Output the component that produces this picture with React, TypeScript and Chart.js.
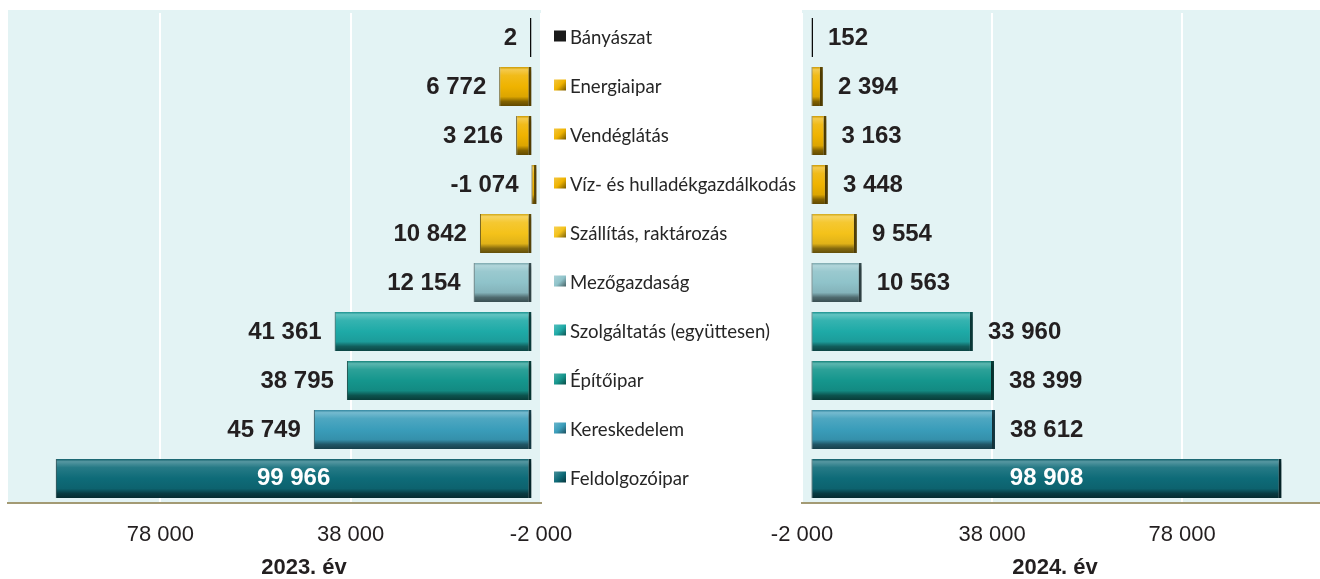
import React, { useEffect, useRef } from "react";
import { Chart, registerables } from "chart.js";

Chart.register(...registerables);

const CATEGORIES = [
  "Bányászat",
  "Energiaipar",
  "Vendéglátás",
  "Víz- és hulladékgazdálkodás",
  "Szállítás, raktározás",
  "Mezőgazdaság",
  "Szolgáltatás (együttesen)",
  "Építőipar",
  "Kereskedelem",
  "Feldolgozóipar",
];
const VALUES_2023 = [2, 6772, 3216, -1074, 10842, 12154, 41361, 38795, 45749, 99966];
const VALUES_2024 = [152, 2394, 3163, 3448, 9554, 10563, 33960, 38399, 38612, 98908];
const COLORS = [
  "#1a1a1a",
  "#efb300",
  "#efb300",
  "#efb300",
  "#f4c21a",
  "#8fc3ca",
  "#1eaaa7",
  "#15968d",
  "#3a9dba",
  "#0e6b78",
];
const X_TICKS = [-2000, 38000, 78000];
const YEAR_LEFT = "2023. év";
const YEAR_RIGHT = "2024. év";

const TEXT = "#231f20";
const PLOT_BG = "#e3f3f4";
const BASELINE = "#a39a74";

function mix(hex: string, amt: number): string {
  const n = parseInt(hex.slice(1), 16);
  let r = n >> 16, g = (n >> 8) & 255, b = n & 255;
  const t = amt < 0 ? 0 : 255;
  const p = Math.abs(amt);
  r = Math.round(r + (t - r) * p);
  g = Math.round(g + (t - g) * p);
  b = Math.round(b + (t - b) * p);
  return `rgb(${r},${g},${b})`;
}

function fmt(v: number): string {
  const s = Math.abs(Math.round(v)).toString().replace(/\B(?=(\d{3})+(?!\d))/g, " ");
  return (v < 0 ? "-" : "") + s;
}

function barGradient(ctx: CanvasRenderingContext2D, c: string, y0: number, y1: number) {
  const g = ctx.createLinearGradient(0, y0, 0, y1);
  g.addColorStop(0, mix(c, -0.15));
  g.addColorStop(0.07, mix(c, 0.3));
  g.addColorStop(0.22, mix(c, 0.1));
  g.addColorStop(0.5, c);
  g.addColorStop(0.76, mix(c, -0.08));
  g.addColorStop(0.88, mix(c, -0.45));
  g.addColorStop(1, mix(c, -0.6));
  return g;
}

const bgPlugin = {
  id: "plotBg",
  beforeDraw(chart: any) {
    const { ctx, chartArea } = chart;
    if (!chartArea) return;
    ctx.save();
    ctx.fillStyle = PLOT_BG;
    ctx.fillRect(chartArea.left, chartArea.top - 3, chartArea.right - chartArea.left, chartArea.bottom - chartArea.top + 3);
    ctx.restore();
  },
};

const shadowPlugin = {
  id: "barShadow",
  beforeDatasetDraw(chart: any) {
    const ctx = chart.ctx;
    ctx.save();
    ctx.shadowColor = "rgba(0,0,0,0.3)";
    ctx.shadowBlur = 4;
    ctx.shadowOffsetX = 2;
    ctx.shadowOffsetY = 3;
  },
  afterDatasetDraw(chart: any) {
    chart.ctx.restore();
  },
};

const labelPlugin = {
  id: "valueLabels",
  afterDatasetsDraw(chart: any, _args: any, opts: any) {
    const ctx = chart.ctx;
    const meta = chart.getDatasetMeta(0);
    const data = chart.data.datasets[0].data as number[];
    ctx.save();
    ctx.font = 'bold 24px "Liberation Sans", Arial, sans-serif';
    ctx.textBaseline = "middle";
    meta.data.forEach((el: any, i: number) => {
      const { x, y, base } = el.getProps(["x", "y", "base"], true);
      const txt = fmt(data[i]);
      if (Math.abs(x - base) > 300) {
        ctx.fillStyle = "#ffffff";
        ctx.textAlign = "center";
        ctx.fillText(txt, (x + base) / 2, y);
      } else if (opts.side === "left") {
        ctx.fillStyle = TEXT;
        ctx.textAlign = "right";
        ctx.fillText(txt, Math.min(x, base) - 13, y + 1);
      } else {
        ctx.fillStyle = TEXT;
        ctx.textAlign = "left";
        ctx.fillText(txt, Math.max(x, base) + 15, y + 1);
      }
    });
    ctx.restore();
  },
};

const markerPlugin = {
  id: "catMarkers",
  afterDraw(chart: any, _args: any, opts: any) {
    if (!opts.show) return;
    const { ctx, chartArea } = chart;
    const yScale = chart.scales.y;
    ctx.save();
    CATEGORIES.forEach((_c, i) => {
      const y = yScale.getPixelForValue(i) - 1;
      const x = chartArea.right + 13;
      const c = COLORS[i];
      if (i === 0) {
        ctx.fillStyle = c;
      } else {
        const g = ctx.createLinearGradient(x, y - 6, x + 12, y + 6);
        g.addColorStop(0, mix(c, 0.25));
        g.addColorStop(0.5, c);
        g.addColorStop(1, mix(c, -0.55));
        ctx.fillStyle = g;
      }
      ctx.fillRect(x, y - 6, 12, 11);
    });
    ctx.restore();
  },
};

const titlePlugin = {
  id: "yearTitle",
  afterDraw(chart: any, _args: any, opts: any) {
    const ctx = chart.ctx;
    ctx.save();
    ctx.font = 'bold 22px "Liberation Sans", Arial, sans-serif';
    ctx.fillStyle = TEXT;
    ctx.textAlign = "center";
    ctx.textBaseline = "alphabetic";
    ctx.fillText(opts.text, opts.x, 574);
    ctx.restore();
  },
};

function makeConfig(values: number[], side: "left" | "right"): any {
  const isLeft = side === "left";
  return {
    type: "bar",
    data: {
      labels: CATEGORIES,
      datasets: [
        {
          data: values,
          backgroundColor: (context: any) => {
            const chart = context.chart;
            const c = COLORS[context.dataIndex] || COLORS[0];
            if (!chart.chartArea || context.dataIndex === 0) return c;
            const ys = chart.scales.y;
            const cy = ys.getPixelForValue(context.dataIndex);
            const h = ((chart.chartArea.bottom - chart.chartArea.top) / CATEGORIES.length) * 0.8;
            return barGradient(chart.ctx, c, cy - h / 2, cy + h / 2);
          },
          borderColor: (context: any) => mix(COLORS[context.dataIndex] || COLORS[0], -0.6),
          borderWidth: { left: 1, right: 3, top: 0, bottom: 0 },
          borderSkipped: false,
          minBarLength: 1.5,
          barPercentage: 0.8,
          categoryPercentage: 1,
        },
      ],
    },
    options: {
      indexAxis: "y",
      responsive: false,
      devicePixelRatio: 1,
      animation: false,
      layout: { padding: isLeft ? { left: 8, top: 13, right: 0, bottom: 0 } : { left: 42, top: 13, right: 0, bottom: 0 } },
      plugins: {
        legend: { display: false },
        tooltip: { enabled: false },
        valueLabels: { side },
        catMarkers: { show: isLeft },
        yearTitle: { text: isLeft ? YEAR_LEFT : YEAR_RIGHT, x: isLeft ? 304 : 295 },
      },
      scales: {
        x: {
          type: "linear",
          reverse: isLeft,
          min: -2000,
          max: isLeft ? 110000 : 107000,
          afterBuildTicks: (s: any) => {
            s.ticks = X_TICKS.map((v) => ({ value: v }));
          },
          afterFit: (s: any) => {
            s.height = 76;
            s.paddingLeft = 0;
            s.paddingRight = 0;
          },
          ticks: {
            callback: (v: any) => fmt(Number(v)),
            font: { family: '"Liberation Sans", Arial, sans-serif', size: 22 },
            color: TEXT,
            padding: 19,
            maxRotation: 0,
            autoSkip: false,
          },
          grid: { color: "#ffffff", lineWidth: 2, drawTicks: false },
          border: { display: true, color: BASELINE, width: 2 },
        },
        y: {
          display: isLeft,
          position: "right",
          grid: { display: false, drawTicks: false },
          border: { display: false },
          afterFit: (s: any) => {
            s.width = isLeft ? 259 : 0;
            s.paddingTop = 0;
            s.paddingBottom = 0;
          },
          ticks: {
            padding: 29,
            font: { family: "Lato, 'Open Sans', sans-serif", size: 18.6 },
            color: "#262626",
            autoSkip: false,
          },
        },
      },
    },
    plugins: [bgPlugin, shadowPlugin, labelPlugin, markerPlugin, titlePlugin],
  };
}

export default function App() {
  const leftRef = useRef<HTMLCanvasElement>(null);
  const rightRef = useRef<HTMLCanvasElement>(null);

  useEffect(() => {
    if (!leftRef.current || !rightRef.current) return;
    const l = new Chart(leftRef.current, makeConfig(VALUES_2023, "left"));
    const r = new Chart(rightRef.current, makeConfig(VALUES_2024, "right"));
    return () => {
      l.destroy();
      r.destroy();
    };
  }, []);

  return (
    <div
      style={{
        position: "absolute",
        left: 0,
        top: 0,
        width: 1320,
        height: 579,
        overflow: "hidden",
        background: "#ffffff",
      }}
    >
      <canvas ref={leftRef} width={800} height={579} style={{ position: "absolute", left: 0, top: 0 }} />
      <canvas ref={rightRef} width={560} height={579} style={{ position: "absolute", left: 760, top: 0 }} />
    </div>
  );
}
